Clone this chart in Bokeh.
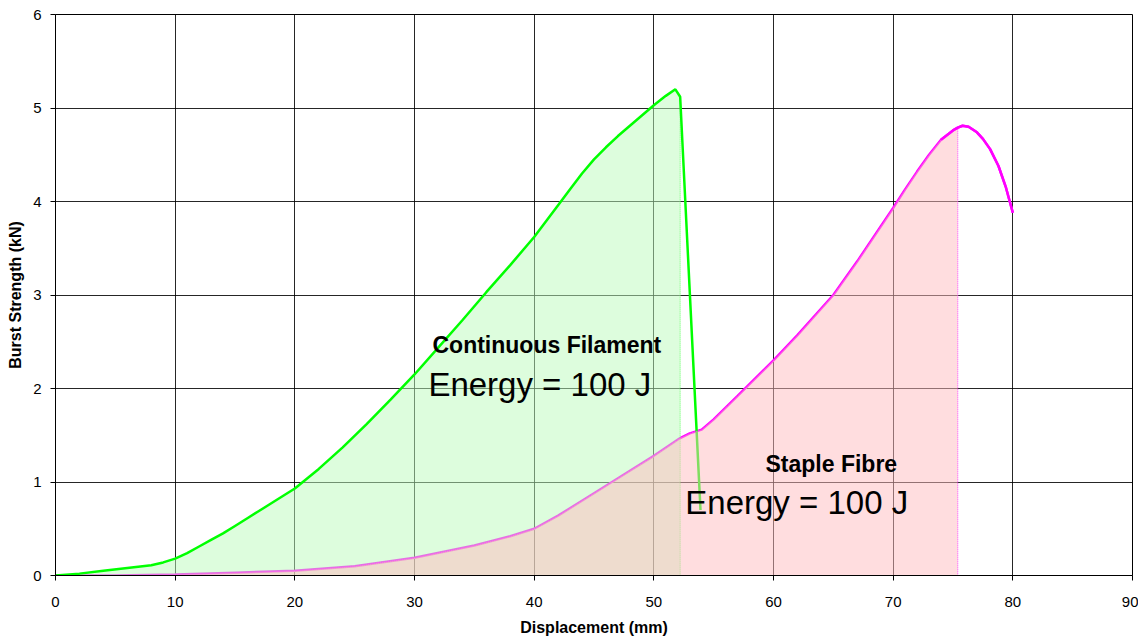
from bokeh.plotting import figure
from bokeh.models import (ColumnDataSource, Range1d, SingleIntervalTicker, Label,
                          CDSView, BooleanFilter)
from bokeh.embed import file_html
from bokeh.resources import INLINE

# ---- data ----
cf_x = [0, 2, 4, 6, 8, 9, 10, 11, 12, 13, 14, 15, 16, 17, 18, 19, 20, 22, 24, 26, 28, 30,
        32, 34, 36, 38, 40, 42, 43, 44, 45, 46, 47, 48, 49, 50, 51, 51.8, 52.2, 53.9]
cf_y = [0, 0.02, 0.05, 0.08, 0.11, 0.14, 0.18, 0.24, 0.31, 0.38, 0.45, 0.53, 0.61, 0.69, 0.77,
        0.85, 0.93, 1.14, 1.37, 1.62, 1.88, 2.15, 2.44, 2.73, 3.03, 3.32, 3.62, 3.96, 4.13,
        4.3, 4.45, 4.58, 4.7, 4.81, 4.92, 5.03, 5.13, 5.2, 5.12, 0.7]
cf_area_end = 52.2

sf_x = [0, 5, 10, 15, 20, 25, 30, 35, 38, 40, 42, 45, 48, 50, 52.2, 53, 54, 55, 57, 60, 62,
        65, 67, 69, 70, 71, 72, 73, 74, 75, 75.4, 75.8, 76.3, 77, 77.5, 78.1, 78.8, 79.4, 80]
sf_y = [0, 0.0, 0.01, 0.03, 0.05, 0.1, 0.19, 0.32, 0.42, 0.5, 0.64, 0.88, 1.12, 1.28, 1.47,
        1.52, 1.56, 1.67, 1.92, 2.3, 2.57, 3.0, 3.36, 3.74, 3.93, 4.13, 4.32, 4.5, 4.66, 4.76,
        4.79, 4.81, 4.8, 4.74, 4.67, 4.56, 4.38, 4.16, 3.88]
sf_area_end = 75.4

x_ticks_interval = 10
y_ticks_interval = 1

FONT = "Liberation Sans"

cf_src = ColumnDataSource(dict(x=cf_x, y=cf_y))
sf_src = ColumnDataSource(dict(x=sf_x, y=sf_y))

# area polygons (curve up to the area end, then down to the axis)
cf_ax = [x for x in cf_x if x <= cf_area_end]
cf_ay = [y for x, y in zip(cf_x, cf_y) if x <= cf_area_end]
cf_poly = ColumnDataSource(dict(x=cf_ax + [cf_ax[-1]], y=cf_ay + [0]))
sf_ax = [x for x in sf_x if x <= sf_area_end]
sf_ay = [y for x, y in zip(sf_x, sf_y) if x <= sf_area_end]
sf_poly = ColumnDataSource(dict(x=sf_ax + [sf_ax[-1]], y=sf_ay + [0]))

p = figure(frame_width=1077, frame_height=561,
           x_range=Range1d(0, 90), y_range=Range1d(0, 6),
           output_backend="svg", toolbar_location=None,
           min_border_left=55, min_border_right=6, min_border_top=14, min_border_bottom=55,
           background_fill_color="white", border_fill_color="white")
p.outline_line_color = "#000000"

for ax in (p.xaxis[0], p.yaxis[0]):
    ax.major_label_text_font = FONT
    ax.major_label_text_font_size = "15px"
    ax.major_label_text_color = "#000000"
    ax.axis_label_text_font = FONT
    ax.axis_label_text_font_size = "16px"
    ax.axis_label_text_font_style = "bold"
    ax.axis_label_text_color = "#000000"
    ax.axis_line_color = "#000000"
    ax.major_tick_line_color = "#000000"
    ax.major_tick_out = 5
    ax.major_tick_in = 0
    ax.minor_tick_out = 0
    ax.minor_tick_in = 0

p.xaxis.ticker = SingleIntervalTicker(interval=x_ticks_interval)
p.yaxis.ticker = SingleIntervalTicker(interval=y_ticks_interval)
p.xaxis.axis_label = "Displacement (mm)"
p.yaxis.axis_label = "Burst Strength (kN)"
p.xaxis.major_label_standoff = 16
p.yaxis.major_label_standoff = 9
p.xaxis.axis_label_standoff = 9
p.yaxis.axis_label_standoff = 6

p.xgrid.ticker = SingleIntervalTicker(interval=x_ticks_interval)
p.ygrid.ticker = SingleIntervalTicker(interval=y_ticks_interval)
for g in (p.xgrid[0], p.ygrid[0]):
    g.grid_line_color = "#000000"
    g.grid_line_width = 1
    g.grid_line_alpha = 0.85

# magenta line (under the fills)
p.line("x", "y", source=sf_src, line_color="#FF00FF", line_width=2.5)
# green area
p.patch("x", "y", source=cf_poly, fill_color="#BBFBBB", fill_alpha=0.5,
        line_color="#66FF66", line_width=1, line_dash="1 1")
# green line
p.line("x", "y", source=cf_src, line_color="#00FF00", line_width=2.5)
# pink area
p.patch("x", "y", source=sf_poly, fill_color="#FFBBBF", fill_alpha=0.5,
        line_color="#FF44FF", line_width=1, line_dash="1 1")
# magenta line on top beyond the green area
view = CDSView(filter=BooleanFilter([x >= cf_area_end for x in sf_x]))
p.line("x", "y", source=sf_src, view=view, line_color="#FF00FF", line_width=2.5)

labels = [
    (41.06, 2.47, "Continuous Filament", "23px", "bold", "center"),
    (31.16, 2.04, "Energy = 100 J", "33px", "normal", "left"),
    (64.83, 1.19, "Staple Fibre", "23px", "bold", "center"),
    (52.63, 0.78, "Energy = 100 J", "33px", "normal", "left"),
]
for x, y, t, fs, st, al in labels:
    p.add_layout(Label(x=x, y=y, text=t, text_font=FONT, text_font_size=fs,
                       text_font_style=st, text_align=al, text_baseline="alphabetic",
                       text_color="#000000"))

open("out.html", "w").write(file_html(p, INLINE))
